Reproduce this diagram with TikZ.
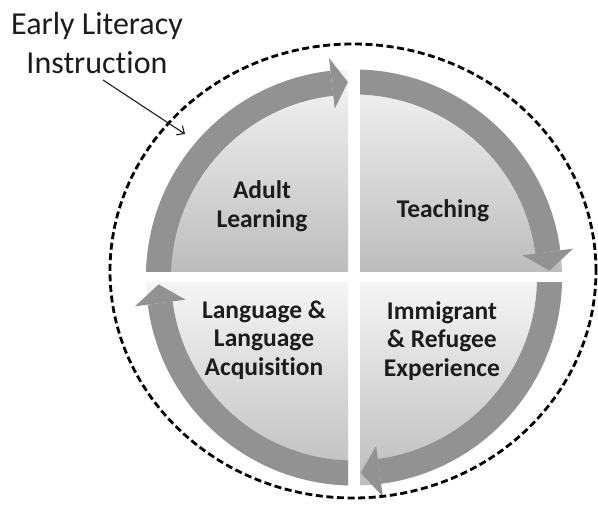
\documentclass[tikz,border=0pt]{standalone}
\usepackage{fontspec}
\setmainfont{Carlito}[Ligatures={NoCommon}]
\usetikzlibrary{arrows.meta,calc}
\definecolor{ringgray}{RGB}{146,146,146}
\definecolor{inkgray}{RGB}{28,28,28}

\begin{document}
\begin{tikzpicture}[x=1pt,y=1pt,
  quadlabel/.style={font=\bfseries\fontsize{25.5}{28.5}\selectfont, align=center, text=inkgray},
  ringarc/.style={line width=25pt, draw=ringgray},
  headfill/.style={fill=ringgray},
  quadshade/.style={top color=black!4, bottom color=black!26},
  outline/.style={line width=2.8pt, dash pattern=on 7pt off 3.6pt},
  pointer/.style={line width=1.1pt, draw=inkgray, -{Straight Barb[length=6pt,width=11pt]}}]

\useasboundingbox (0,0) rectangle (598,-508);
\fill[white] (0,0) rectangle (598,-508);

\coordinate (C) at (354,-277.5);

% one quadrant: clip box, shading box, arc start, head base, head tip
\foreach \bx/\by/\ex/\ey/\sy/\ty/\astart/\abase/\atip in {
    0/-272/348/0/-69.5/-272/185/96.5/91.8,
    360/-272/598/0/-69.5/-272/95/7.5/2,
    360/-283/598/-508/-283/-485.5/5/-82.5/-88,
    0/-283/348/-508/-283/-485.5/-85/-172.5/-178} {
  \begin{scope}
    \clip (\bx,\by) rectangle (\ex,\ey);
    \begin{scope}
      \clip (C) circle (208pt);
      \shade[quadshade] (\bx,\sy) rectangle (\ex,\ty);
    \end{scope}
    \draw[ringarc] ($(C)+(\astart:195.5pt)$)
      arc[start angle=\astart, end angle=\abase, radius=195.5pt];
    \fill[headfill] ($(C)+(\abase:170pt)$) -- ($(C)+(\abase:221pt)$)
      -- ($(C)+(\atip:195.5pt)$) -- cycle;
  \end{scope}
}

% dashed boundary of early literacy instruction
\draw[outline] (353,-271) ellipse [x radius=243pt, y radius=227pt];

% quadrant labels
\node[quadlabel] (adult) at (262,-206) {Adult\\Learning};
\node[quadlabel] (teach) at (443,-211) {Teaching};
\node[quadlabel] (lang) at (264,-340) {Language \&\\Language\\Acquisition};
\node[quadlabel] (immig) at (442,-341) {Immigrant\\\& Refugee\\Experience};

% outer label with pointer
\node[font=\fontsize{32}{39}\selectfont, align=center, text=inkgray] (eli) at (97,-43)
  {Early Literacy\\Instruction};
\coordinate (eli-foot) at (103,-80);
\coordinate (eli-tip) at (185,-134);
\draw[pointer] (eli-foot) -- (eli-tip);
\end{tikzpicture}
\end{document}
